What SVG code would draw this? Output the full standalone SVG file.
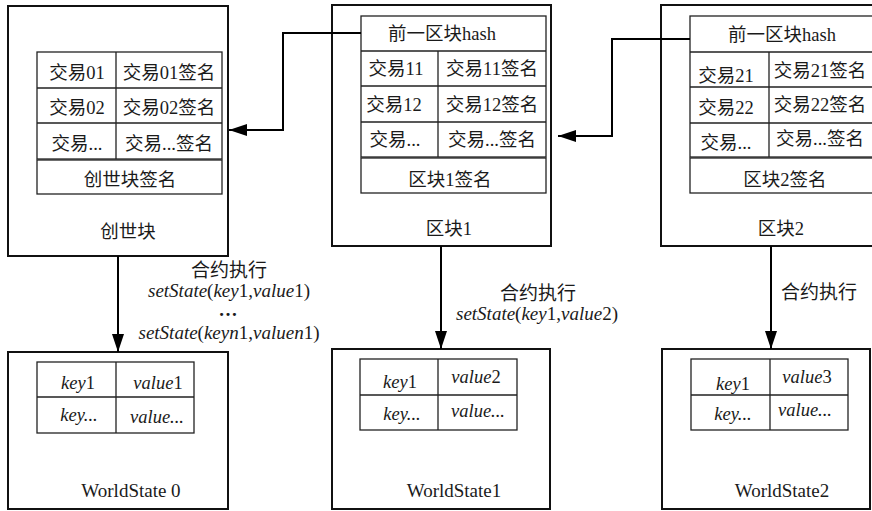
<svg xmlns="http://www.w3.org/2000/svg" width="872" height="511" viewBox="0 0 872 511">
<defs>
<style>
text{font-family:"Liberation Serif","Times New Roman","DejaVu Serif","Noto Sans CJK SC",serif;font-size:18.5px;fill:#1a1a1a;text-anchor:middle}
.outer{fill:none;stroke:#111;stroke-width:2}
.tbl{fill:none;stroke:#222;stroke-width:1.3}
.conn{fill:none;stroke:#000;stroke-width:2}
.i{font-style:italic}
.big{font-size:19px}
</style>
<marker id="ah" viewBox="0 0 18 12" refX="18" refY="6" markerWidth="18" markerHeight="12" markerUnits="userSpaceOnUse" orient="auto"><path d="M0,0 L18,6 L0,12 z" fill="#000"/></marker>
</defs>
<rect width="872" height="511" fill="#fff"/>

<g id="block0">
<rect class="outer" x="8" y="6" width="220" height="250"/>
<rect class="tbl" x="37" y="52" width="185" height="107"/>
<path class="tbl" d="M37 88H222M37 123H222M116 52V159"/>
<rect class="tbl" x="37" y="160" width="185" height="34"/>
<text x="77" y="79">交易01</text>
<text x="169" y="79">交易01签名</text>
<text x="77" y="114">交易02</text>
<text x="169" y="114">交易02签名</text>
<text x="77" y="150">交易...</text>
<text x="169" y="150">交易...签名</text>
<text x="130" y="186">创世块签名</text>
<text x="128" y="238">创世块</text>
</g>

<g id="block1">
<rect class="outer" x="332" y="5" width="219" height="241"/>
<rect class="tbl" x="361" y="16" width="185" height="141"/>
<path class="tbl" d="M361 51H546M361 86H546M361 122H546M438 51V157"/>
<rect class="tbl" x="361" y="158" width="185" height="35"/>
<text x="442" y="40">前一区块hash</text>
<text x="396" y="75">交易11</text>
<text x="492" y="75">交易11签名</text>
<text x="394" y="111">交易12</text>
<text x="492" y="111">交易12签名</text>
<text x="395" y="146">交易...</text>
<text x="492" y="146">交易...签名</text>
<text x="450" y="186">区块1签名</text>
<text x="449" y="235">区块1</text>
</g>

<g id="block2">
<rect class="outer" x="661" y="5" width="230" height="241"/>
<rect class="tbl" x="690" y="16" width="184" height="141"/>
<path class="tbl" d="M690 52H874M690 87H874M690 123H874M769 52V157"/>
<rect class="tbl" x="690" y="158" width="184" height="35"/>
<text x="782" y="41">前一区块hash</text>
<text x="726" y="82">交易21</text>
<text x="820" y="77">交易21签名</text>
<text x="726" y="114">交易22</text>
<text x="820" y="111">交易22签名</text>
<text x="726" y="149">交易...</text>
<text x="820" y="145">交易...签名</text>
<text x="785" y="186">区块2签名</text>
<text x="781" y="235">区块2</text>
</g>

<g id="ws0">
<rect class="outer" x="8" y="352" width="220" height="157"/>
<rect class="tbl" x="37" y="362" width="157" height="71"/>
<path class="tbl" d="M37 397H194M116 362V433"/>
<text x="78" y="389"><tspan class="i">key</tspan>1</text>
<text x="158" y="389"><tspan class="i">value</tspan>1</text>
<text x="79" y="421" class="i">key...</text>
<text x="157" y="423" class="i">value...</text>
<text x="131" y="497" class="big">WorldState 0</text>
</g>

<g id="ws1">
<rect class="outer" x="332" y="349" width="218" height="160"/>
<rect class="tbl" x="360" y="359" width="157" height="71"/>
<path class="tbl" d="M360 395H517M438 359V430"/>
<text x="400" y="388"><tspan class="i">key</tspan>1</text>
<text x="476" y="383"><tspan class="i">value</tspan>2</text>
<text x="402" y="420" class="i">key...</text>
<text x="478" y="417" class="i">value...</text>
<text x="454" y="497" class="big">WorldState1</text>
</g>

<g id="ws2">
<rect class="outer" x="662" y="349" width="208" height="160"/>
<rect class="tbl" x="691" y="359" width="157" height="71"/>
<path class="tbl" d="M691 395H848M770 359V430"/>
<text x="733" y="390"><tspan class="i">key</tspan>1</text>
<text x="807" y="383"><tspan class="i">value</tspan>3</text>
<text x="733" y="420" class="i">key...</text>
<text x="805" y="416" class="i">value...</text>
<text x="782" y="497" class="big">WorldState2</text>
</g>

<g id="connectors">
<path class="conn" d="M361 33H283V130H229" marker-end="url(#ah)"/>
<path class="conn" d="M690 39H612V136H558" marker-end="url(#ah)"/>
<path class="conn" d="M118 256V352" marker-end="url(#ah)"/>
<path class="conn" d="M441 246V349" marker-end="url(#ah)"/>
<path class="conn" d="M771 246V349" marker-end="url(#ah)"/>
</g>

<g id="labels">
<text x="229" y="277" class="big">合约执行</text>
<text x="229" y="297" class="big"><tspan class="i">setState</tspan>(<tspan class="i">key</tspan>1,<tspan class="i">value</tspan>1)</text>
<text x="228" y="316" class="big" font-weight="bold">…</text>
<text x="229" y="339" class="big"><tspan class="i">setState</tspan>(<tspan class="i">keyn</tspan>1,<tspan class="i">valuen</tspan>1)</text>
<text x="538" y="300" class="big">合约执行</text>
<text x="537" y="320" class="big"><tspan class="i">setState</tspan>(<tspan class="i">key</tspan>1,<tspan class="i">value</tspan>2)</text>
<text x="819" y="299" class="big">合约执行</text>
</g>
</svg>
